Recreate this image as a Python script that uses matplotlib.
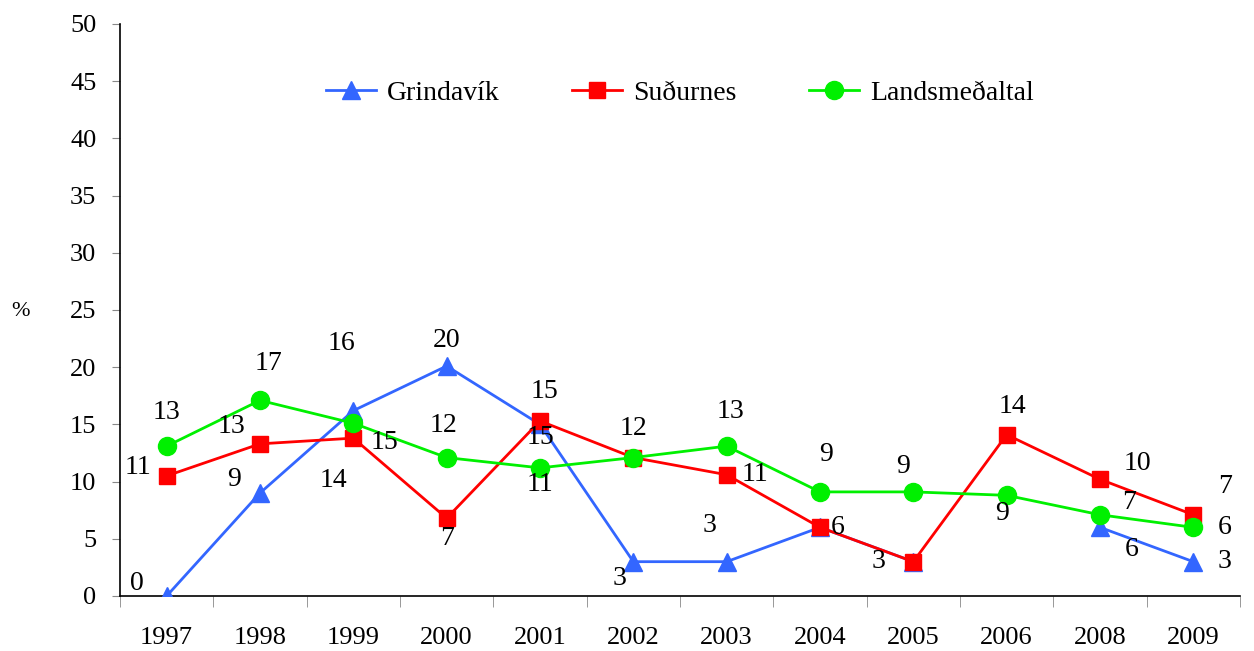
import matplotlib.pyplot as plt
import numpy as np

years = ['1997', '1998', '1999', '2000', '2001', '2002', '2003', '2004', '2005', '2006', '2008', '2009']
grindavik = [0, 9, 16.2, 20.1, 15, 3, 3, 6, 3, np.nan, 6, 3]
sudurnes = [10.5, 13.3, 13.8, 6.8, 15.3, 12.1, 10.6, 6, 3, 14.1, 10.2, 7.1]
landsmedaltal = [13.1, 17.1, 15.1, 12.1, 11.2, 12.1, 13.1, 9.1, 9.1, 8.8, 7.1, 6.0]

grindavik_labels = ['0', '9', '16', '20', '15', '3', '3', '6', '3', '', '6', '3']
sudurnes_labels = ['11', '13', '14', '7', '15', '12', '11', '', '', '14', '10', '7']
lands_labels = ['13', '17', '15', '12', '11', '', '13', '9', '9', '9', '7', '6']

# label offsets in pixels (dx, dy)
g_off = [(-30, 13), (-26, 14), (-12, 67), (0, 26), (0, -13), (-14, -17), (-17, 36),
         (18, 0), (-35, 0), (0, 0), (32, -22), (31, 0)]
s_off = [(-29, 8), (-29, 17), (-20, -42), (0, -20), (4, 29), (0, 29), (28, 0),
         (0, 0), (0, 0), (6, 28), (37, 16), (32, 28)]
l_off = [(0, 34), (8, 37), (31, -19), (-3, 32), (0, -17), (0, 0), (4, 35),
         (6, 37), (-10, 25), (-5, -18), (29, 12), (31, 0)]

plt.rcParams['font.family'] = ['Liberation Serif', 'DejaVu Serif']
fs = 19

fig = plt.figure(figsize=(12.54, 6.51), dpi=100)
ax = fig.add_axes([120 / 1254, 55 / 651, 1120 / 1254, 572 / 651])

x = np.arange(len(years))
ax.plot(x, grindavik, color='#3366ff', lw=2, marker='^', markersize=12.5, label='Grindavík', zorder=3)
ax.plot(x, sudurnes, color='#ff0000', lw=2, marker='s', markersize=11, label='Suðurnes', zorder=4)
ax.plot(x, landsmedaltal, color='#00f000', lw=2, marker='o', markersize=13, label='Landsmeðaltal', zorder=5)

for vals, labs, offs in [(grindavik, grindavik_labels, g_off),
                         (sudurnes, sudurnes_labels, s_off),
                         (landsmedaltal, lands_labels, l_off)]:
    for i, (v, t, o) in enumerate(zip(vals, labs, offs)):
        if t == '' or np.isnan(v):
            continue
        ax.annotate(t, (i, v), xytext=o, textcoords='offset pixels',
                    ha='center', va='center', fontsize=fs + 1, zorder=6)

ax.set_xlim(-0.5, len(years) - 0.5)
ax.set_ylim(0, 50)
ax.set_yticks(np.arange(0, 51, 5))
ax.set_xticks(x)
ax.set_xticklabels(years)
ax.set_xticks(np.arange(-0.5, len(years), 1), minor=True)
ax.tick_params(axis='x', which='major', length=0, pad=22, labelsize=fs)
ax.tick_params(axis='x', which='minor', length=8, color='#888888', direction='out')
ax.tick_params(axis='y', length=6, color='#888888', direction='out', pad=11, labelsize=fs)

for s in ['top', 'right']:
    ax.spines[s].set_visible(False)
ax.spines['left'].set_linewidth(1.2)
ax.spines['bottom'].set_linewidth(1.2)

fig.text(20 / 1254, 1 - 312 / 651, '%', fontsize=16, ha='center', va='center')

ax.legend(loc='center', bbox_to_anchor=(0.5, 0.879), ncol=3, frameon=False, fontsize=20,
          handlelength=1.8, handletextpad=0.4, columnspacing=2.6)

fig.savefig('out.png', dpi=100)
